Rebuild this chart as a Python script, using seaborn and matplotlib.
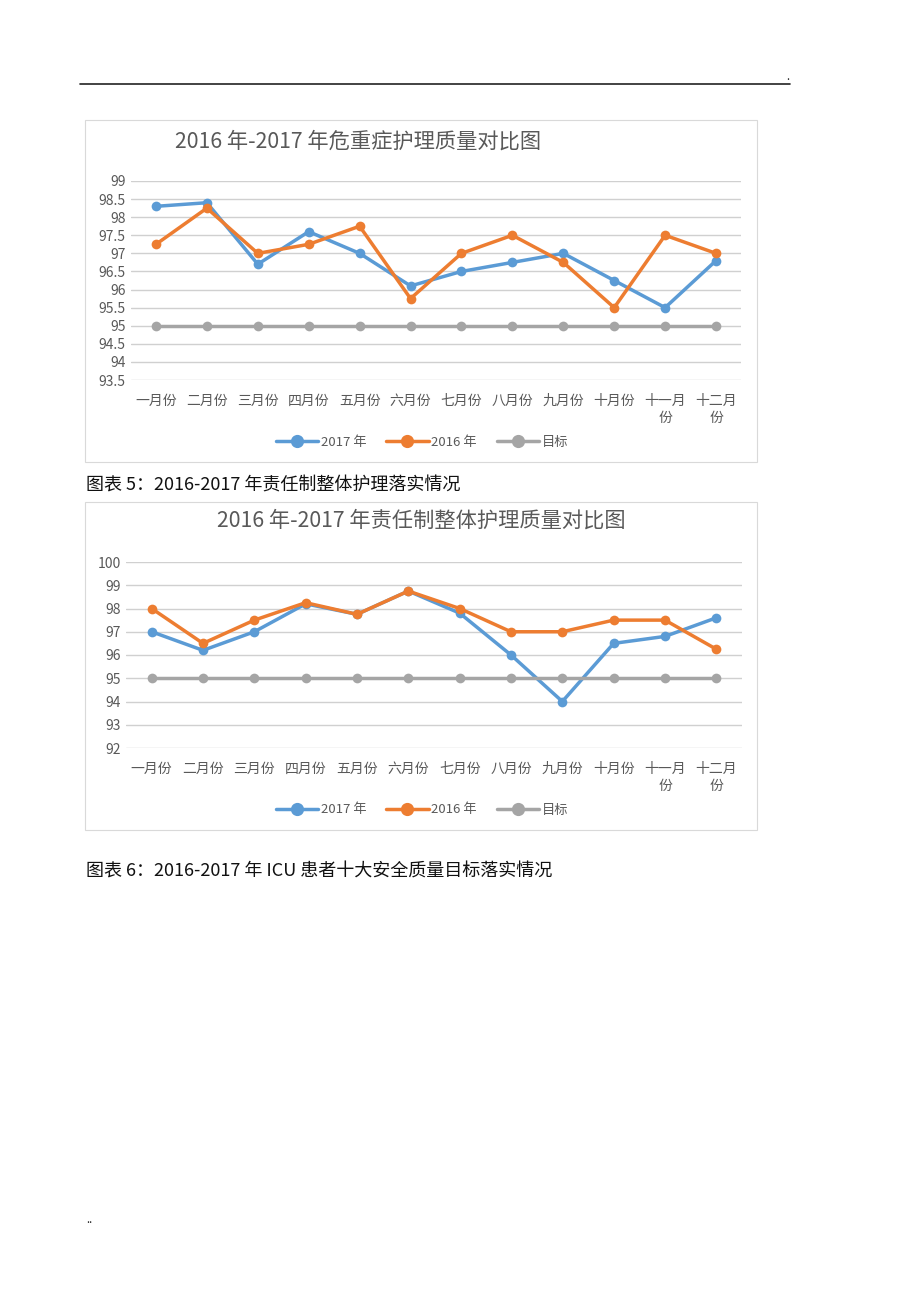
import pandas as pd
import matplotlib
matplotlib.use("Agg")
import matplotlib.pyplot as plt
from matplotlib.patches import Rectangle
from matplotlib.lines import Line2D
import seaborn as sns

sns.set_theme(style="white")
plt.rcParams['font.family'] = ['Noto Sans CJK SC', 'DejaVu Sans']

months = ["一月份", "二月份", "三月份", "四月份", "五月份", "六月份",
          "七月份", "八月份", "九月份", "十月份", "十一月\n份", "十二月\n份"]
series_names = ["2017 年", "2016 年", "目标"]
colors = ["#5B9BD5", "#ED7D31", "#A5A5A5"]

# 图1：危重症护理质量
critical_2017 = [98.3, 98.4, 96.7, 97.6, 97.0, 96.1, 96.5, 96.75, 97.0, 96.25, 95.5, 96.8]
critical_2016 = [97.25, 98.25, 97.0, 97.25, 97.75, 95.75, 97.0, 97.5, 96.75, 95.5, 97.5, 97.0]
critical_goal = [95] * 12
critical_ticks = [93.5, 94, 94.5, 95, 95.5, 96, 96.5, 97, 97.5, 98, 98.5, 99]

# 图2：责任制整体护理质量
overall_2017 = [97.0, 96.2, 97.0, 98.2, 97.75, 98.75, 97.8, 96.0, 94.0, 96.5, 96.8, 97.6]
overall_2016 = [98.0, 96.5, 97.5, 98.25, 97.75, 98.75, 98.0, 97.0, 97.0, 97.5, 97.5, 96.25]
overall_goal = [95] * 12
overall_ticks = [92, 93, 94, 95, 96, 97, 98, 99, 100]

W, H = 920, 1302
fig = plt.figure(figsize=(W / 100, H / 100), dpi=100)


def px_axes(left, top, right, bottom):
    return fig.add_axes([left / W, 1 - bottom / H, (right - left) / W, (bottom - top) / H])


def long_df(s17, s16, goal):
    rows = []
    for name, vals in zip(series_names, [s17, s16, goal]):
        for m, v in zip(months, vals):
            rows.append({"月份": m, "值": v, "系列": name})
    return pd.DataFrame(rows)


def draw_chart(ax, df, ticks, ylim, title, title_xy, legend_y):
    sns.lineplot(data=df, x="月份", y="值", hue="系列", hue_order=series_names,
                 palette=colors, marker="o", markersize=7, markeredgewidth=0,
                 linewidth=2.5, sort=False, ax=ax, legend=False)
    ax.set_ylim(*ylim)
    ax.set_xlim(-0.5, 11.5)
    ax.set_yticks(ticks)
    ax.set_yticklabels([f"{t:g}" for t in ticks])
    ax.yaxis.grid(True, color="#d0d0d0", linewidth=1)
    ax.set_axisbelow(True)
    for s in ax.spines.values():
        s.set_visible(False)
    ax.set_xlabel("")
    ax.set_ylabel("")
    ax.tick_params(axis="both", length=0, labelsize=10, colors="#595959")
    ax.tick_params(axis="x", pad=10)
    for lab in ax.get_xticklabels():
        lab.set_verticalalignment("top")
        lab.set_linespacing(1.3)
    fig.text(title_xy[0] / W, 1 - title_xy[1] / H, title, ha="center", va="center",
             fontsize=15.3, color="#595959")
    handles = [Line2D([], [], color=c, lw=2.5, marker="o", markersize=9.5, markeredgewidth=0)
               for c in colors]
    fig.legend(handles, series_names, loc="center", bbox_to_anchor=(422 / W, 1 - legend_y / H),
               ncol=3, frameon=False, fontsize=9.5, handlelength=3.2, handletextpad=0.2,
               columnspacing=1.5, labelcolor="#595959")


def frame(left, top, right, bottom):
    fig.patches.append(Rectangle((left / W, 1 - bottom / H), (right - left) / W, (bottom - top) / H,
                                 transform=fig.transFigure, fill=False,
                                 edgecolor="#d9d9d9", linewidth=0.8))


# 页眉横线
fig.add_artist(Line2D([80 / W, 790 / W], [1 - 84 / H, 1 - 84 / H], color="#222222", linewidth=1.2))
fig.text(788 / W, 1 - 77 / H, ".", fontsize=8, ha="center", va="center", color="#222222")

frame(85, 120, 757, 462)
ax1 = px_axes(130.5, 181, 741.5, 380)
draw_chart(ax1, long_df(critical_2017, critical_2016, critical_goal), critical_ticks,
           (93.5, 99), "2016 年-2017 年危重症护理质量对比图", (358, 142), 442)

fig.text(86 / W, 1 - 486 / H, "图表 5：2016-2017 年责任制整体护理落实情况",
         fontsize=13, color="#111111", ha="left", va="center")

frame(85, 502, 757, 830)
ax2 = px_axes(126, 562, 742, 748)
draw_chart(ax2, long_df(overall_2017, overall_2016, overall_goal), overall_ticks,
           (92, 100), "2016 年-2017 年责任制整体护理质量对比图", (421, 521), 810)

fig.text(86 / W, 1 - 872 / H, "图表 6：2016-2017 年 ICU 患者十大安全质量目标落实情况",
         fontsize=13, color="#111111", ha="left", va="center")

fig.text(86 / W, 1 - 1220 / H, "..", fontsize=8, ha="left", va="center", color="#222222")

fig.savefig("out.png", dpi=100)
